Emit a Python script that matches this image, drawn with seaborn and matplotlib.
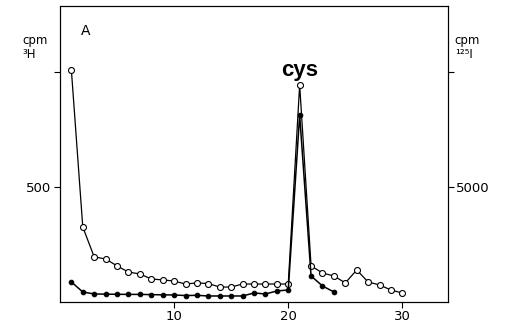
import matplotlib
matplotlib.use("Agg")
import matplotlib.pyplot as plt
import seaborn as sns
import numpy as np
import pandas as pd

# Data
fractions_h3 = list(range(1, 31))
cpm_h3 = [1009, 326, 196, 187, 157, 130, 122, 100, 96, 91,
          78, 83, 80, 65, 65, 78, 78, 78, 78, 78,
          943, 157, 126, 113, 83, 139, 87, 74, 52, 39]
fractions_i125 = list(range(1, 25))
cpm_i125 = [870, 435, 348, 340, 335, 330, 330, 320, 310, 305,
            280, 290, 261, 261, 261, 261, 391, 348, 478, 522,
            8130, 1130, 696, 435]
xticks = [10, 20, 30]
yticks_left = [500, 1000]
yticks_left_labels = ["500", ""]
yticks_right = [5000, 10000]
yticks_right_labels = ["5000", ""]

sns.set_style("ticks")
plt.rcParams['font.family'] = ['DejaVu Sans']
plt.rcParams['text.color'] = 'black'

fig = plt.figure(figsize=(5.08, 3.27), dpi=100)
ax = fig.add_axes([0.118, 0.0765, 0.764, 0.9055])
ax2 = ax.twinx()

df_h = pd.DataFrame({"fraction": fractions_h3, "cpm": cpm_h3})
df_i = pd.DataFrame({"fraction": fractions_i125, "cpm": cpm_i125})

sns.lineplot(data=df_h, x="fraction", y="cpm", ax=ax, color="black", lw=0.9,
             marker="o", markersize=4.3, markerfacecolor="white",
             markeredgecolor="black", markeredgewidth=0.8, zorder=3)
sns.lineplot(data=df_i, x="fraction", y="cpm", ax=ax2, color="black", lw=1.1,
             marker="o", markersize=3.3, markerfacecolor="black",
             markeredgecolor="black", zorder=3)

ax.set_xlim(0, 34)
ax.set_ylim(0, 1287)
ax2.set_ylim(0, 12870)

ax.set_xticks(xticks)
ax.set_xticklabels([str(t) for t in xticks], fontsize=9.5)
ax.set_yticks(yticks_left)
ax.set_yticklabels(yticks_left_labels, fontsize=9.5)
ax2.set_yticks(yticks_right)
ax2.set_yticklabels(yticks_right_labels, fontsize=9.5)

for a in (ax, ax2):
    a.set_xlabel("")
    a.set_ylabel("")
    a.tick_params(length=4, width=0.8, pad=2, colors="black")
    for s in a.spines.values():
        s.set_linewidth(0.8)
        s.set_color("black")
        s.set_visible(True)

fig.text(0.045, 0.855, "cpm\n\u00b3H", fontsize=8.5, ha="left", va="center",
         linespacing=1.05, color="black")
fig.text(0.895, 0.855, "cpm\n\u00b9\u00b2\u2075I", fontsize=8.5, ha="left",
         va="center", linespacing=1.05, color="black")
ax.text(0.055, 0.915, "A", transform=ax.transAxes, fontsize=10,
        ha="left", va="center", color="black")
ax.text(21, 983, "cys", fontsize=16, fontweight="bold", color="black",
        family=["Liberation Sans", "DejaVu Sans"], ha="center", va="baseline")

fig.savefig("out.png", dpi=100)
